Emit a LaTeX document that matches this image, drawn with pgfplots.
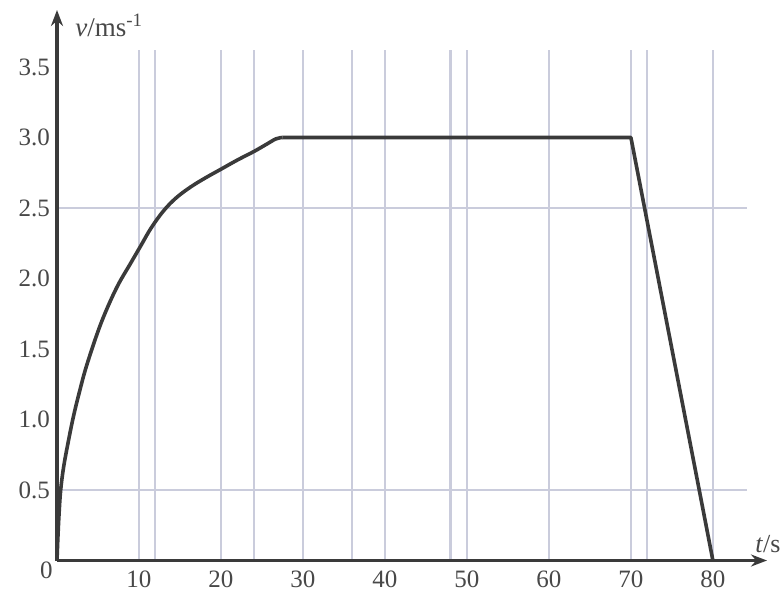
\documentclass[border=0pt]{standalone}
\usepackage{fontspec}
\setmainfont{Liberation Serif}
\usepackage{pgfplots}
\pgfplotsset{compat=1.18}
\usetikzlibrary{arrows.meta}
\definecolor{gridc}{RGB}{202,204,220}
\definecolor{inkc}{RGB}{58,58,58}
\definecolor{textc}{RGB}{72,72,72}

\begin{document}
\begin{tikzpicture}
\begin{axis}[
  scale only axis,
  width=355pt, height=275.25pt,
  xmin=0, xmax=86.6, ymin=0, ymax=3.904,
  axis lines=left,
  axis line style={inkc, line width=1.8pt, -{Stealth[length=8pt,width=6pt]}},
  axis on top,
  xtick={10,20,...,80},
  ytick={0.5,1.0,1.5,2.0,2.5,3.0,3.5},
  major tick length=0pt,
  yticklabel style={/pgf/number format/.cd, fixed, fixed zerofill, precision=1},
  xticklabel style={yshift=-1.5pt},
  /pgf/number format/assume math mode=true,
  tick label style={textc, font=\fontsize{12.5}{15}\selectfont},
  clip=false,
]
% grid of the graph paper
\pgfplotsinvokeforeach{10,12,20,24,30,36,40,48,50,60,70,72,80}{
  \addplot[gridc, line width=1.1pt, forget plot] coordinates {(#1,0) (#1,3.62)};
}
\pgfplotsinvokeforeach{0.5,2.5}{
  \addplot[gridc, line width=1.1pt, forget plot] coordinates {(0,#1) (84.1,#1)};
}
% velocity curve
\addplot[inkc, line width=1.8pt, smooth, tension=0.6, line join=round] coordinates {
  (0,0) (0.1,0.15) (0.25,0.33) (0.45,0.5) (0.8,0.66) (1.3,0.82) (2.0,1.02)
  (2.8,1.21) (3.6,1.38) (5.0,1.625) (6.2,1.8) (7.5,1.96) (8.9,2.1) (10.2,2.23)
  (11.5,2.36) (13,2.48) (14.5,2.57) (16.2,2.645) (18,2.71) (20,2.775) (22,2.84)
  (24,2.9) (25.5,2.95) (26.7,2.99) (27.5,3.0)
};
\addplot[inkc, line width=1.8pt, line join=round] coordinates {(27.5,3.0) (70,3.0) (80,0)};

\node[anchor=base west, inner sep=0pt, textc, font=\fontsize{13.5}{16}\selectfont, xshift=9pt, yshift=-13.5pt]
  at (rel axis cs:0,1) {\textit{v}/ms\textsuperscript{-1}};
\node[anchor=base west, inner sep=0pt, textc, font=\fontsize{13}{16}\selectfont, xshift=-6pt, yshift=4pt]
  at (rel axis cs:1,0) {\textit{t}/s};
\node[anchor=north east, inner sep=0pt, textc, font=\fontsize{12.5}{15}\selectfont, xshift=-2pt, yshift=-0.5pt]
  at (rel axis cs:0,0) {0};
\end{axis}
\pgfresetboundingbox
\path (-28.5pt,-17.75pt) rectangle (361.5pt,280.25pt);
\end{tikzpicture}
\end{document}
